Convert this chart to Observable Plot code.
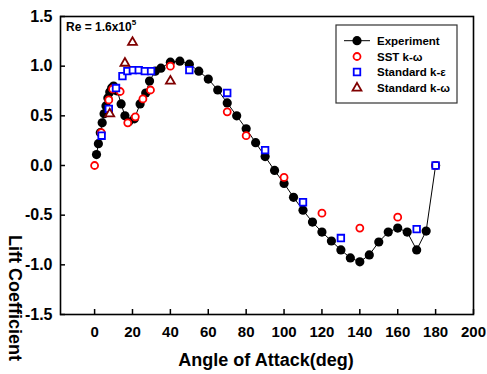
<!DOCTYPE html>
<html><head><meta charset="utf-8">
<script src="https://cdn.jsdelivr.net/npm/d3@7"></script>
<script src="https://cdn.jsdelivr.net/npm/@observablehq/plot@0.6"></script>
<style>body{margin:0;background:#fff;} #chart{width:487px;height:374px;}</style>
</head><body><div id="chart"></div>
<script>
// Experiment
const expAngle = [1,2,3,4,5,6,7,8,9,10,12,14,16,18,21,24,27,29,32,35,40,45,50,55,60,65,70,75,80,85,90,95,100,105,110,115,120,125,130,135,140,145,150,155,160,165,170,175,180];
const expCl    = [0.11,0.22,0.33,0.43,0.52,0.6,0.68,0.74,0.78,0.8,0.75,0.62,0.5,0.44,0.47,0.62,0.73,0.85,0.95,0.98,1.04,1.05,1.02,0.95,0.87,0.76,0.63,0.5,0.37,0.23,0.09,-0.05,-0.18,-0.32,-0.45,-0.57,-0.67,-0.76,-0.85,-0.93,-0.97,-0.9,-0.77,-0.67,-0.63,-0.67,-0.85,-0.66,0.0];
// SST k-omega
const sstAngle = [0,3.5,7.5,9.5,13.5,17.5,21.5,25.5,29.5,40,70,80,100,120,140,160,180];
const sstCl    = [0.0,0.33,0.66,0.77,0.745,0.43,0.49,0.67,0.76,1.0,0.54,0.3,-0.12,-0.48,-0.63,-0.52,0.0];
// Standard k-epsilon
const keAngle = [3.7,7.5,11.3,14.7,17.3,20.2,23.3,26.5,29.8,50,70,90,110,130,170,180];
const keCl    = [0.3,0.57,0.78,0.9,0.95,0.96,0.96,0.95,0.95,0.96,0.73,0.155,-0.37,-0.73,-0.64,0.0];
// Standard k-omega
const kwAngle = [8,16,20,40];
const kwCl    = [0.52,1.03,1.24,0.85];

const xTicks = [0,20,40,60,80,100,120,140,160,180,200];
const yTicks = [-1.5,-1.0,-0.5,0.0,0.5,1.0,1.5];
const legendLabels = ["Experiment","SST k-ω","Standard k-ε","Standard k-ω"];

const zip = (a,b) => a.map((x,i)=>({x, y:b[i]}));
const exp = zip(expAngle, expCl), sst = zip(sstAngle, sstCl), ke = zip(keAngle, keCl), kw = zip(kwAngle, kwCl);

const FONT = "'Liberation Sans', Arial, sans-serif";
const plot = Plot.plot({
  width: 487, height: 374,
  marginLeft: 60, marginRight: 14, marginTop: 16, marginBottom: 60,
  style: {fontFamily: FONT, fontWeight: "bold", background: "white", color: "black", overflow: "visible"},
  x: {domain: [-18, 200]},
  y: {domain: [-1.5, 1.5]},
  marks: [
    Plot.axisX(xTicks, {tickSize: -5, tickPadding: 17, fontSize: 15, strokeWidth: 1.5, label: null, tickFormat: d => String(d)}),
    Plot.axisY(yTicks, {tickSize: -5, tickPadding: 13, fontSize: 16, strokeWidth: 1.5, label: null, tickFormat: d => d.toFixed(1)}),
    Plot.frame({stroke: "black", strokeWidth: 1.6}),
    Plot.line(exp, {x: "x", y: "y", stroke: "black", strokeWidth: 1}),
    Plot.dot(exp, {x: "x", y: "y", r: 4.6, fill: "black"}),
    Plot.dot(sst, {x: "x", y: "y", r: 3.5, stroke: "#ff0000", strokeWidth: 1.8, fill: "white"}),
    Plot.dot(ke, {x: "x", y: "y", symbol: "square", r: 3.7, stroke: "#0000ff", strokeWidth: 1.8, fill: "white"}),
    Plot.dot(kw, {x: "x", y: "y", symbol: "triangle", r: 3.3, stroke: "#800000", strokeWidth: 1.8, fill: "white"})
  ]
});
document.getElementById("chart").appendChild(plot);

const svg = d3.select(plot);
// Axis titles
svg.append("text").attr("x", 266).attr("y", 366).attr("text-anchor", "middle")
  .style("font", `bold 18px ${FONT}`).text("Angle of Attack(deg)");
svg.append("text").attr("transform", "translate(15,298) rotate(90)").attr("text-anchor", "middle")
  .attr("dominant-baseline", "central").style("font", `bold 18px ${FONT}`).text("Lift Coefficient");
// Reynolds number
const re = svg.append("text").attr("x", 66).attr("y", 31).attr("text-anchor", "start").style("font", `bold 12px ${FONT}`);
re.append("tspan").text("Re = 1.6x10");
re.append("tspan").attr("dy", -6).style("font-size", "8px").text("5");
// Legend
const lg = svg.append("g");
lg.append("rect").attr("x", 336).attr("y", 25).attr("width", 121).attr("height", 78)
  .attr("fill", "white").attr("stroke", "#333").attr("stroke-width", 1.2);
const rows = [40.7, 56.5, 72, 88];
const mx = 357;
lg.append("line").attr("x1", 344).attr("x2", 370).attr("y1", rows[0]).attr("y2", rows[0]).attr("stroke", "black");
lg.append("circle").attr("cx", mx).attr("cy", rows[0]).attr("r", 4.6).attr("fill", "black");
lg.append("circle").attr("cx", mx).attr("cy", rows[1]).attr("r", 3.5).attr("fill", "white").attr("stroke", "#ff0000").attr("stroke-width", 1.8);
lg.append("path").attr("transform", `translate(${mx},${rows[2]})`).attr("d", d3.symbol(d3.symbolSquare, Math.PI*3.7*3.7)()).attr("fill", "white").attr("stroke", "#0000ff").attr("stroke-width", 1.8);
lg.append("path").attr("transform", `translate(${mx},${rows[3]})`).attr("d", d3.symbol(d3.symbolTriangle, Math.PI*3.3*3.3)()).attr("fill", "white").attr("stroke", "#800000").attr("stroke-width", 1.8);
legendLabels.forEach((t, i) => {
  lg.append("text").attr("x", 377).attr("y", rows[i]).attr("text-anchor", "start").attr("dominant-baseline", "central")
    .style("font", `bold 11.5px ${FONT}`).text(t);
});
</script>
</body></html>
